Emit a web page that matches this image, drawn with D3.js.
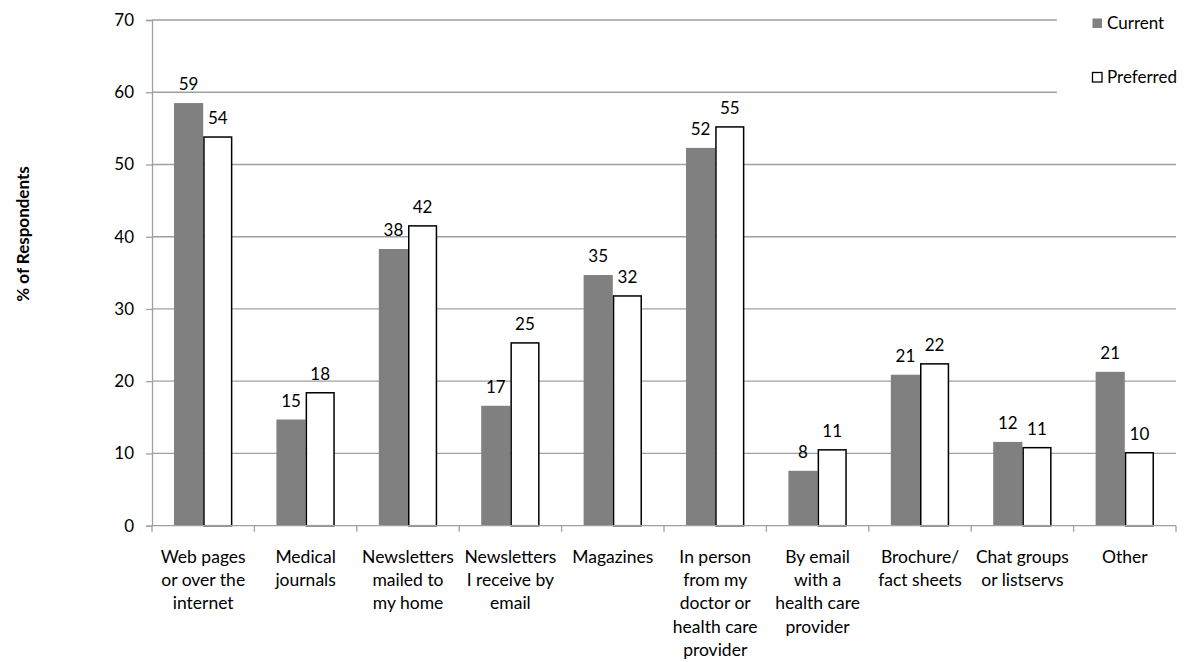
<!DOCTYPE html>
<html>
<head>
<meta charset="utf-8">
<script src="https://cdn.jsdelivr.net/npm/d3@7"></script>
<style>
  body { margin: 0; background: #fff; }
  text { font-family: Lato, 'Open Sans', sans-serif; fill: #000; }
</style>
</head>
<body>
<svg id="chart" width="1186" height="662"></svg>
<script>
// categories (multi-line labels)
const categories = [
  ['Web pages', 'or over the', 'internet'],
  ['Medical', 'journals'],
  ['Newsletters', 'mailed to', 'my home'],
  ['Newsletters', 'I receive by', 'email'],
  ['Magazines'],
  ['In person', 'from my', 'doctor or', 'health care', 'provider'],
  ['By email', 'with a', 'health care', 'provider'],
  ['Brochure/', 'fact sheets'],
  ['Chat groups', 'or listservs'],
  ['Other']
];
const seriesNames = ['Current', 'Preferred'];
const currentValues = [58.5, 14.7, 38.3, 16.6, 34.7, 52.3, 7.6, 20.9, 11.6, 21.3];
const preferredValues = [53.8, 18.4, 41.5, 25.3, 31.8, 55.2, 10.5, 22.4, 10.8, 10.1];
const currentLabels = ['59', '15', '38', '17', '35', '52', '8', '21', '12', '21'];
const preferredLabels = ['54', '18', '42', '25', '32', '55', '11', '22', '11', '10'];
const yTicks = [0, 10, 20, 30, 40, 50, 60, 70];

const svg = d3.select('#chart');
const style = {
  left: 152, right: 1176, top: 20, bottom: 525.7,
  color: ['#808080', '#ffffff'],
  grid: '#a0a0a0',
  font: '17px',
  catFont: '17.5px'
};

const rows = categories.map((c, i) => ({
  idx: i,
  label: c,
  values: [
    { key: 0, value: currentValues[i], text: currentLabels[i] },
    { key: 1, value: preferredValues[i], text: preferredLabels[i] }
  ]
}));

const x0 = d3.scaleBand()
  .domain(d3.range(categories.length))
  .range([style.left, style.right])
  .paddingInner(0.43)
  .paddingOuter(0.215);
const x1 = d3.scaleBand().domain([0, 1]).range([0, x0.bandwidth()]);
const y = d3.scaleLinear().domain([0, 70]).range([style.bottom, style.top]);

// gridlines
svg.append('g')
  .selectAll('line')
  .data(yTicks.filter((d) => d > 0))
  .join('line')
  .attr('x1', style.left)
  .attr('x2', style.right)
  .attr('y1', (d) => y(d))
  .attr('y2', (d) => y(d))
  .attr('stroke', style.grid)
  .attr('stroke-width', 1.3);

// y axis
const yAxis = svg.append('g')
  .attr('transform', `translate(${style.left},0)`)
  .call(d3.axisLeft(y).tickValues(yTicks).tickSize(6).tickPadding(12));
yAxis.select('.domain').attr('stroke', style.grid).attr('stroke-width', 1.3);
yAxis.selectAll('.tick line').attr('stroke', style.grid).attr('stroke-width', 1.3);
yAxis.selectAll('.tick text').style('font-size', style.font).attr('fill', '#000');

// bars
const group = svg.append('g')
  .selectAll('g')
  .data(rows)
  .join('g')
  .attr('transform', (d) => `translate(${x0(d.idx)},0)`);

group.selectAll('rect')
  .data((d) => d.values)
  .join('rect')
  .attr('x', (d) => x1(d.key) + (d.key ? 0.75 : 0))
  .attr('width', (d) => x1.bandwidth() - (d.key ? 1.5 : 0))
  .attr('y', (d) => y(d.value))
  .attr('height', (d) => y(0) - y(d.value))
  .attr('fill', (d) => style.color[d.key])
  .attr('stroke', (d) => (d.key ? '#000' : 'none'))
  .attr('stroke-width', 1.5);

group.selectAll('text.val')
  .data((d) => d.values)
  .join('text')
  .attr('class', 'val')
  .attr('x', (d) => x1(d.key) + x1.bandwidth() / 2)
  .attr('y', (d) => y(d.value) - 13)
  .attr('text-anchor', 'middle')
  .style('font-size', style.font)
  .text((d) => d.text);

// x axis
const xAxis = svg.append('g').attr('transform', `translate(0,${style.bottom})`);
xAxis.append('line')
  .attr('x1', style.left).attr('x2', style.right)
  .attr('stroke', style.grid).attr('stroke-width', 1.3);
xAxis.selectAll('line.tick')
  .data(d3.range(categories.length + 1))
  .join('line')
  .attr('class', 'tick')
  .attr('x1', (d) => style.left + d * x0.step())
  .attr('x2', (d) => style.left + d * x0.step())
  .attr('y1', 0).attr('y2', 6)
  .attr('stroke', style.grid).attr('stroke-width', 1.3);

xAxis.selectAll('text')
  .data(rows)
  .join('text')
  .attr('x', (d) => x0(d.idx) + x0.bandwidth() / 2)
  .attr('y', 37)
  .attr('text-anchor', 'middle')
  .style('font-size', style.catFont)
  .each(function (d) {
    d3.select(this).selectAll('tspan')
      .data(d.label)
      .join('tspan')
      .attr('x', x0(d.idx) + x0.bandwidth() / 2)
      .attr('dy', (l, i) => (i ? 23.3 : 0))
      .text((l) => l);
  });

// y axis title
svg.append('text')
  .attr('transform', 'translate(29,234) rotate(-90)')
  .attr('text-anchor', 'middle')
  .style('font-size', '17px')
  .style('font-weight', 'bold')
  .text('% of Respondents');

// legend (white box covers the top gridlines like the original)
const legend = svg.append('g');
legend.append('rect')
  .attr('x', 1057).attr('y', 0)
  .attr('width', 129).attr('height', 100)
  .attr('fill', '#fff');
const item = legend.selectAll('g')
  .data(seriesNames)
  .join('g')
  .attr('transform', (d, i) => `translate(1092,${18 + i * 54})`);
item.append('rect')
  .attr('x', 0.5).attr('y', 0.5)
  .attr('width', 9.5).attr('height', 9.5)
  .attr('fill', (d, i) => style.color[i])
  .attr('stroke', (d, i) => (i ? '#000' : 'none'))
  .attr('stroke-width', 1.3);
item.append('text')
  .attr('x', 15)
  .attr('y', 5)
  .attr('dy', '0.35em')
  .style('font-size', style.font)
  .text((d) => d);
</script>
</body>
</html>
